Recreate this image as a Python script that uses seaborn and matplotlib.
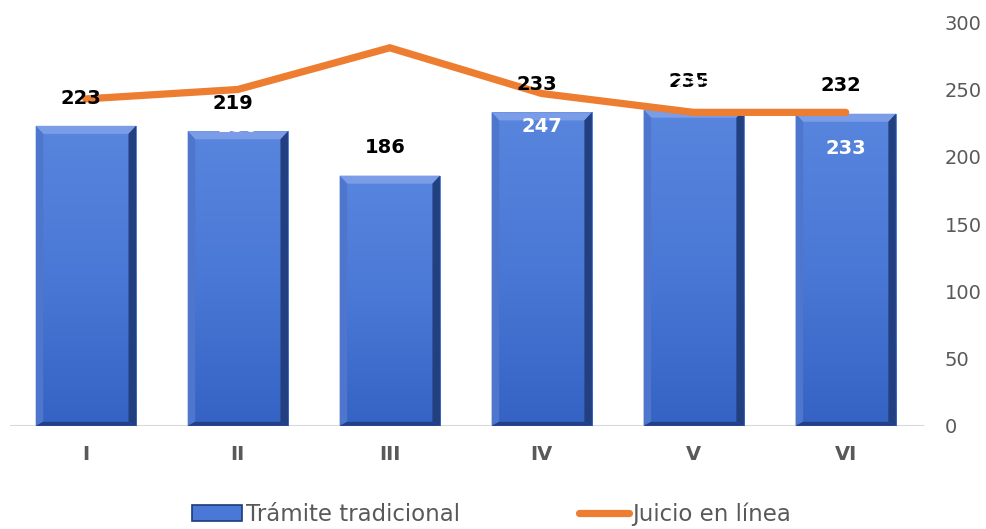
import numpy as np
import pandas as pd
import matplotlib
matplotlib.use("Agg")
import matplotlib.pyplot as plt
import seaborn as sns
from matplotlib.colors import LinearSegmentedColormap
from matplotlib.patches import Polygon, Patch
from matplotlib.lines import Line2D

categorias = ["I", "II", "III", "IV", "V", "VI"]
tramite_tradicional = [223, 219, 186, 233, 235, 232]
juicio_en_linea = [243, 250, 281, 247, 233, 233]
y_ticks = [0, 50, 100, 150, 200, 250, 300]

sns.set_theme(style="white")
plt.rcParams["font.family"] = ["DejaVu Sans"]

GRAY = "#595959"
ORANGE = "#ED7D31"

fig = plt.figure(figsize=(9.87, 5.29), dpi=100)
ax = fig.add_axes([0.010, 0.195, 0.930, 0.763])

df = pd.DataFrame({"cat": categorias, "val": tramite_tradicional})
sns.barplot(data=df, x="cat", y="val", ax=ax, color="#4A78D6", width=0.66,
            saturation=1, edgecolor="none", zorder=2)

ax.set_xlim(-0.5, 5.54)
ax.set_ylim(0, 300)

# gradient + bevel on bars
cmap = LinearSegmentedColormap.from_list("b", ["#3563C4", "#4A78D6", "#5885DD"])
grad = np.linspace(0, 1, 256).reshape(-1, 1)
for p in list(ax.patches):
    x0, y0 = p.get_x(), p.get_y()
    w, h = p.get_width(), p.get_height()
    im = ax.imshow(grad, extent=[x0, x0 + w, y0, y0 + h], cmap=cmap,
                   aspect="auto", origin="lower", zorder=2.1)
    im.set_clip_path(p)
    bx = w * 0.075
    by = 6.0
    x1, y1 = x0 + w, y0 + h
    ax.add_patch(Polygon([[x0, y1], [x1, y1], [x1 - bx, y1 - by], [x0 + bx, y1 - by]],
                         closed=True, fc="#7B9CE6", ec="none", zorder=2.2))
    ax.add_patch(Polygon([[x0, y0], [x0, y1], [x0 + bx, y1 - by], [x0 + bx, y0 + by * 0.5]],
                         closed=True, fc="#4D76CC", ec="none", zorder=2.2))
    ax.add_patch(Polygon([[x1, y0], [x1, y1], [x1 - bx, y1 - by], [x1 - bx, y0 + by * 0.5]],
                         closed=True, fc="#223F80", ec="none", zorder=2.2))
    ax.add_patch(Polygon([[x0, y0], [x1, y0], [x1 - bx, y0 + by * 0.5], [x0 + bx, y0 + by * 0.5]],
                         closed=True, fc="#22408A", ec="none", zorder=2.2))

ax.set_xlim(-0.5, 5.54)
ax.set_ylim(0, 300)

# line
sns.lineplot(x=np.arange(len(categorias)), y=juicio_en_linea, ax=ax, color=ORANGE,
             linewidth=5.2, zorder=4, sort=False)
for l in ax.lines:
    l.set_solid_capstyle("round")
    l.set_solid_joinstyle("miter")

# baseline
ax.axhline(0, color="#D9D9D9", linewidth=2.2, zorder=1.5, xmax=0.995)

# labels on bars (black)
for i, v in enumerate(tramite_tradicional):
    ax.annotate(str(v), (i - 0.03, v), xytext=(0, 20), textcoords="offset points",
                ha="center", va="center", fontsize=14, fontweight="bold",
                color="black", zorder=5)

# labels on line (white)
offs = [21, -27, 21, -24, 20, -26]
for i, v in enumerate(juicio_en_linea):
    ax.annotate(str(v), (i, v), xytext=(0, offs[i]), textcoords="offset points",
                ha="center", va="center", fontsize=14, fontweight="bold",
                color="white", zorder=6)

# axes styling
for s in ax.spines.values():
    s.set_visible(False)
ax.grid(False)
ax.yaxis.tick_right()
ax.set_yticks(y_ticks)
ax.set_yticklabels([str(t) for t in y_ticks], fontsize=14, color=GRAY)
ax.tick_params(axis="y", length=0, pad=12)
ax.tick_params(axis="x", length=0, pad=14)
ax.set_xticks(range(len(categorias)))
ax.set_xticklabels(categorias, fontsize=14, fontweight="bold", color=GRAY)
ax.set_xlabel("")
ax.set_ylabel("")

# legend
handles = [Patch(facecolor="#4A78D6", edgecolor="#1E3A7A", linewidth=1.2),
           Line2D([0], [0], color=ORANGE, linewidth=5.2, solid_capstyle="round")]
fig.legend(handles, ["Trámite tradicional", "Juicio en línea"], loc="center",
           bbox_to_anchor=(0.498, 0.028), ncol=2, frameon=False, fontsize=16.5,
           labelcolor=GRAY, handlelength=2.2, handletextpad=0.15, columnspacing=5.2,
           handleheight=0.75)

fig.savefig("out.png", dpi=100)
